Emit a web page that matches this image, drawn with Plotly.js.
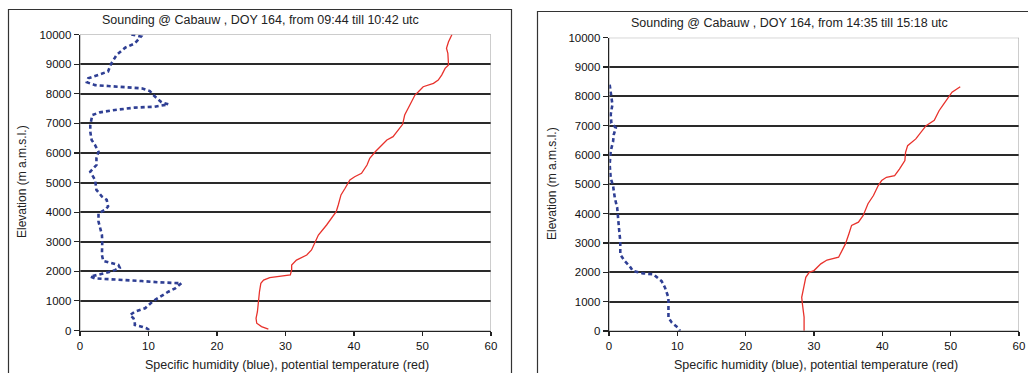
<!DOCTYPE html>
<html>
<head>
<meta charset="utf-8">
<script src="https://cdn.plot.ly/plotly-3.0.1.min.js"></script>
<style>html,body{margin:0;padding:0;background:#fff;}#chart{width:1028px;height:373px;}</style>
</head>
<body>
<div id="chart"></div>
<script>
// ---- Data: morning sounding (09:44 - 10:42 utc) ----
const morningHumidity = [7.5, 8.9, 8.0, 6.6, 5.35, 4.5, 4.1, 2.7, 1.2, 1.0, 2.2, 4.1, 6.6, 9.0, 10.2, 10.7, 11.9, 12.9, 10.9, 8.0, 5.1, 2.9, 1.8, 1.7, 1.5, 1.5, 1.7, 2.2, 2.7, 2.4, 2.4, 1.5, 1.95, 2.2, 2.4, 3.2, 3.9, 4.1, 3.65, 2.7, 2.7, 2.9, 3.2, 3.25, 3.2, 3.2, 3.4, 4.4, 5.6, 5.8, 5.1, 4.1, 2.7, 1.5, 2.2, 4.1, 6.6, 9.0, 11.4, 13.9, 14.8, 13.9, 12.9, 11.7, 10.7, 9.5, 8.0, 7.3, 7.8, 8.0, 8.0, 9.0, 9.7, 10.2];
const morningHumidityElev = [10000, 9930, 9700, 9555, 9310, 8995, 8750, 8630, 8520, 8385, 8290, 8260, 8225, 8180, 8090, 7955, 7710, 7640, 7560, 7530, 7450, 7370, 7280, 7170, 6940, 6715, 6435, 6265, 6040, 5820, 5590, 5365, 5200, 5085, 4750, 4525, 4415, 4190, 4075, 3963, 3680, 3455, 3230, 3000, 2780, 2550, 2350, 2300, 2215, 2120, 2040, 1965, 1900, 1820, 1760, 1740, 1705, 1670, 1630, 1595, 1595, 1425, 1310, 1140, 1000, 750, 635, 525, 410, 300, 185, 130, 75, 0];
const morningTheta = [27.5, 26.5, 25.8, 25.7, 25.9, 26.0, 26.2, 26.4, 26.8, 27.7, 29.2, 30.7, 30.9, 30.9, 31.6, 33.1, 33.8, 34.3, 34.8, 36.0, 36.7, 37.4, 37.7, 38.1, 38.7, 39.4, 40.1, 41.1, 41.9, 42.3, 43.1, 44.0, 44.8, 45.7, 46.5, 47.1, 47.4, 47.9, 48.4, 48.9, 49.4, 50.1, 51.6, 52.3, 52.8, 53.3, 53.8, 53.8, 53.7, 53.5, 53.8, 54.3];
const morningThetaElev = [50, 130, 245, 410, 635, 975, 1310, 1595, 1705, 1785, 1820, 1875, 2045, 2215, 2380, 2550, 2720, 3000, 3225, 3565, 3790, 4015, 4240, 4580, 4805, 5085, 5195, 5310, 5590, 5820, 6040, 6265, 6435, 6550, 6775, 6965, 7280, 7505, 7755, 7955, 8065, 8235, 8350, 8460, 8630, 8855, 8970, 9195, 9365, 9535, 9755, 10000];

// ---- Data: afternoon sounding (14:35 - 15:18 utc) ----
const afternoonHumidity = [0.1, 0.25, 0.5, 0.25, 0.35, 1.0, 0.7, 0.6, 0.25, 0.1, 0.25, 0.6, 0.85, 1.2, 1.3, 1.5, 1.65, 1.65, 2.3, 3.0, 3.5, 5.0, 6.5, 7.7, 8.2, 8.7, 8.7, 8.7, 9.2, 10.1, 10.4];
const afternoonHumidityElev = [8400, 8060, 7720, 7380, 7090, 6925, 6700, 6470, 6130, 5675, 5220, 4940, 4540, 4200, 3860, 3405, 3065, 2610, 2385, 2215, 2045, 1965, 1930, 1700, 1475, 1135, 795, 455, 285, 115, 0];
const afternoonTheta = [28.55, 28.55, 28.3, 28.2, 28.5, 28.8, 29.3, 30.0, 31.0, 31.9, 33.6, 34.1, 34.6, 35.1, 35.5, 36.5, 37.2, 37.9, 38.7, 39.4, 39.9, 40.6, 41.8, 42.5, 43.3, 43.4, 43.7, 44.9, 45.9, 46.4, 47.6, 48.3, 49.0, 49.8, 50.2, 51.4];
const afternoonThetaElev = [0, 475, 930, 1150, 1490, 1830, 2000, 2060, 2290, 2420, 2515, 2740, 2970, 3310, 3600, 3710, 3940, 4340, 4620, 4960, 5130, 5240, 5300, 5520, 5810, 6090, 6320, 6550, 6830, 7000, 7180, 7510, 7740, 8025, 8140, 8330];

// ---- Axis ticks and texts ----
const xTicks = [0, 10, 20, 30, 40, 50, 60];
const yTicks = [0, 1000, 2000, 3000, 4000, 5000, 6000, 7000, 8000, 9000, 10000];
const titleMorning = "Sounding @ Cabauw , DOY 164, from 09:44 till 10:42 utc";
const titleAfternoon = "Sounding @ Cabauw , DOY 164, from 14:35 till 15:18 utc";
const xTitle = "Specific humidity (blue), potential temperature (red)";
const yTitle = "Elevation (m a.m.s.l.)";

// ---- Rendering ----
const W = 1028, H = 373;
const PX = p => p / W;
const PY = p => 1 - p / H;
const FONT = "Liberation Sans, Arial, sans-serif";
const blue = "#2f3f94", red = "#e8322c";

const blueLine = {color: blue, width: 2.6, dash: "4px,3px"};
const redLine = {color: red, width: 1.3};

const traces = [
  {x: morningHumidity, y: morningHumidityElev, xaxis: "x", yaxis: "y", mode: "lines", line: blueLine, hoverinfo: "skip"},
  {x: morningTheta, y: morningThetaElev, xaxis: "x", yaxis: "y", mode: "lines", line: redLine, hoverinfo: "skip"},
  {x: afternoonHumidity, y: afternoonHumidityElev, xaxis: "x2", yaxis: "y2", mode: "lines", line: blueLine, hoverinfo: "skip"},
  {x: afternoonTheta, y: afternoonThetaElev, xaxis: "x2", yaxis: "y2", mode: "lines", line: redLine, hoverinfo: "skip"}
];

function xAxis(domain, anchor) {
  return {domain: domain, anchor: anchor, range: [0, 60], tickvals: xTicks, ticktext: xTicks.map(String),
    showgrid: false, zeroline: false, showline: true, linecolor: "#222", linewidth: 1.3,
    ticks: "outside", ticklen: 4, tickcolor: "#222", tickwidth: 1.2,
    tickfont: {family: FONT, size: 11.5, color: "#111"}, fixedrange: true};
}
function yAxis(domain, anchor) {
  return {domain: domain, anchor: anchor, range: [0, 10000], tickvals: yTicks, ticktext: yTicks.map(String),
    showgrid: true, gridcolor: "#2a2a2a", gridwidth: 2, zeroline: false, showline: true, linecolor: "#222", linewidth: 1.3,
    ticks: "outside", ticklen: 5, tickcolor: "#222", tickwidth: 1.2,
    tickfont: {family: FONT, size: 11.5, color: "#111"}, fixedrange: true};
}

const ann = (text, x, y, angle, size) => ({text: text, x: PX(x), y: PY(y), xref: "paper", yref: "paper",
  showarrow: false, xanchor: "center", yanchor: "middle", textangle: angle || 0,
  font: {family: FONT, size: size || 12.5, color: "#222"}});

const layout = {
  width: W, height: H,
  margin: {l: 0, r: 0, t: 0, b: 0},
  paper_bgcolor: "#fff", plot_bgcolor: "#fff",
  showlegend: false,
  xaxis: xAxis([PX(80), PX(491)], "y"),
  yaxis: yAxis([PY(330.5), PY(34.5)], "x"),
  xaxis2: xAxis([PX(609), PX(1019)], "y2"),
  yaxis2: yAxis([PY(331), PY(37.7)], "x2"),
  annotations: [
    ann(titleMorning, 260, 20),
    ann(titleAfternoon, 789, 22.5),
    ann(xTitle, 287, 365),
    ann(xTitle, 816, 365),
    ann(yTitle, 22, 182, -90, 12),
    ann(yTitle, 552, 184, -90, 12)
  ],
  shapes: [
    {type: "rect", xref: "paper", yref: "paper", x0: PX(8.5), x1: PX(511.5), y0: PY(380), y1: PY(9.5), line: {color: "#333", width: 1.2}, layer: "below"},
    {type: "rect", xref: "paper", yref: "paper", x0: PX(537.5), x1: PX(1040), y0: PY(380), y1: PY(11.5), line: {color: "#333", width: 1.2}, layer: "below"},
    {type: "rect", xref: "x", yref: "y", x0: 0, x1: 60, y0: 0, y1: 10000, line: {color: "#9a9a9a", width: 1}, layer: "above"},
    {type: "rect", xref: "x2", yref: "y2", x0: 0, x1: 60, y0: 0, y1: 10000, line: {color: "#9a9a9a", width: 1}, layer: "above"}
  ]
};

Plotly.newPlot("chart", traces, layout, {staticPlot: true, displayModeBar: false});
</script>
</body>
</html>
